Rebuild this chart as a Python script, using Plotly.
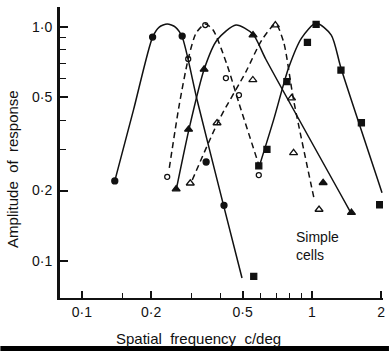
import math
import plotly.graph_objects as go

# Measured responses (amplitude vs spatial frequency, c/deg) for five simple cells
circ_x = [0.139, 0.203, 0.273, 0.347, 0.415]
circ_y = [0.220, 0.906, 0.915, 0.265, 0.173]

ocirc_x = [0.235, 0.290, 0.344, 0.423, 0.482, 0.588]
ocirc_y = [0.229, 0.730, 1.02, 0.605, 0.512, 0.233]

tri_x = [0.257, 0.291, 0.340, 0.555, 1.12, 1.487]
tri_y = [0.203, 0.365, 0.659, 0.924, 0.216, 0.161]

otri_x = [0.296, 0.387, 0.554, 0.694, 0.816, 0.833, 1.075]
otri_y = [0.215, 0.389, 0.594, 1.02, 0.497, 0.290, 0.166]

sq_x = [0.559, 0.588, 0.638, 0.779, 0.957, 1.044, 1.339, 1.643, 1.973]
sq_y = [0.086, 0.255, 0.300, 0.584, 0.860, 1.027, 0.655, 0.390, 0.174]

# Hand-fitted tuning curves through each cell's points
circ_fit_x = [0.139, 0.168, 0.203, 0.217, 0.235, 0.255, 0.273, 0.317, 0.415, 0.497]
circ_fit_y = [0.220, 0.446, 0.906, 1.00, 1.03, 1.00, 0.906, 0.488, 0.170, 0.0846]

ocirc_fit_x = [0.240, 0.265, 0.290, 0.314, 0.344, 0.372, 0.428, 0.482, 0.594]
ocirc_fit_y = [0.250, 0.464, 0.730, 0.943, 1.03, 0.971, 0.688, 0.473, 0.250]

tri_fit_x = [0.257, 0.293, 0.340, 0.387, 0.468, 0.554, 0.630, 1.483]
tri_fit_y = [0.201, 0.370, 0.659, 0.880, 1.02, 0.933, 0.730, 0.160]

otri_fit_x = [0.302, 0.395, 0.516, 0.606, 0.696, 0.754, 0.833, 1.026]
otri_fit_y = [0.222, 0.401, 0.642, 0.880, 1.03, 0.863, 0.488, 0.182]

sq_fit_x = [0.588, 0.682, 0.792, 0.902, 1.044, 1.215, 1.339, 2.02]
sq_fit_y = [0.250, 0.401, 0.668, 0.897, 1.04, 0.924, 0.668, 0.196]

x_ticks = [0.1, 0.2, 0.5, 1, 2]
x_tick_text = ["0·1", "0·2", "0·5", "1", "2"]
x_minor = [0.15, 0.3, 0.4, 0.6, 0.7, 0.8, 0.9]
y_ticks = [0.1, 0.2, 0.5, 1.0]
y_tick_text = ["0·1", "0·2", "0·5", "1·0"]
y_minor = [0.3, 0.4, 0.6, 0.7, 0.8, 0.9]

INK = "#111111"
FONT = "Liberation Sans"

fig = go.Figure()


def add_curve(xs, ys, dashed):
    fig.add_trace(go.Scatter(
        x=xs, y=ys, mode="lines",
        line=dict(color=INK, width=1.5, shape="spline", smoothing=0.7,
                  dash="6px,4px" if dashed else "solid"),
        hoverinfo="skip", showlegend=False))


def add_points(xs, ys, symbol, size):
    fig.add_trace(go.Scatter(
        x=xs, y=ys, mode="markers",
        marker=dict(symbol=symbol, size=size, color=INK,
                    line=dict(color=INK, width=1.3)),
        showlegend=False))


add_curve(circ_fit_x, circ_fit_y, False)
add_curve(ocirc_fit_x, ocirc_fit_y, True)
add_curve(tri_fit_x, tri_fit_y, False)
add_curve(otri_fit_x, otri_fit_y, True)
add_curve(sq_fit_x, sq_fit_y, False)

add_points(circ_x, circ_y, "circle", 6)
add_points(ocirc_x, ocirc_y, "circle-open", 5)
add_points(tri_x, tri_y, "triangle-up", 7)
add_points(otri_x, otri_y, "triangle-up-open", 7)
add_points(sq_x, sq_y, "square", 6)

axis_font = dict(family=FONT, size=14, color=INK)

fig.update_layout(
    width=391, height=351,
    margin=dict(l=60, r=6, t=7, b=53),
    paper_bgcolor="white", plot_bgcolor="white",
    font=dict(family=FONT, color=INK),
    xaxis=dict(
        type="log", range=[math.log10(0.0803), math.log10(2.04)],
        showgrid=False, zeroline=False,
        showline=True, linecolor=INK, linewidth=2,
        tickmode="array", tickvals=x_ticks, ticktext=x_tick_text,
        ticks="inside", ticklen=7, tickwidth=1.5, tickcolor=INK,
        tickfont=axis_font,
        minor=dict(tickmode="array", tickvals=x_minor, ticks="inside",
                   ticklen=5, tickwidth=1.2, tickcolor=INK, showgrid=False),
    ),
    yaxis=dict(
        type="log", range=[math.log10(0.0695), math.log10(1.218)],
        showgrid=False, zeroline=False,
        showline=True, linecolor=INK, linewidth=3,
        tickmode="array", tickvals=y_ticks, ticktext=y_tick_text,
        ticks="inside", ticklen=8, tickwidth=1.5, tickcolor=INK,
        tickfont=axis_font, ticklabelstandoff=2,
        minor=dict(tickmode="array", tickvals=y_minor, ticks="inside",
                   ticklen=6, tickwidth=1.2, tickcolor=INK, showgrid=False),
    ),
    annotations=[
        dict(text="Spatial  frequency  c/deg", xref="paper", yref="paper",
             x=0.429, y=-0.1375, showarrow=False,
             font=dict(family=FONT, size=15, color=INK),
             xanchor="center", yanchor="middle"),
        dict(text="Amplitude  of  response", xref="paper", yref="paper",
             x=-0.147, y=0.442, showarrow=False, textangle=-90,
             font=dict(family=FONT, size=15, color=INK),
             xanchor="center", yanchor="middle"),
        dict(text="Simple<br>cells", xref="paper", yref="paper",
             x=(295 - 60) / 325, y=(298 - 246) / 291, showarrow=False,
             font=dict(family=FONT, size=14, color=INK),
             xanchor="left", yanchor="middle", align="left"),
    ],
    shapes=[
        dict(type="rect", xref="paper", yref="paper",
             x0=-60 / 325, x1=331 / 325, y0=(298 - 351) / 291, y1=(298 - 346) / 291,
             fillcolor="black", line=dict(width=0), layer="above"),
    ],
)

fig.write_html("out.html")
